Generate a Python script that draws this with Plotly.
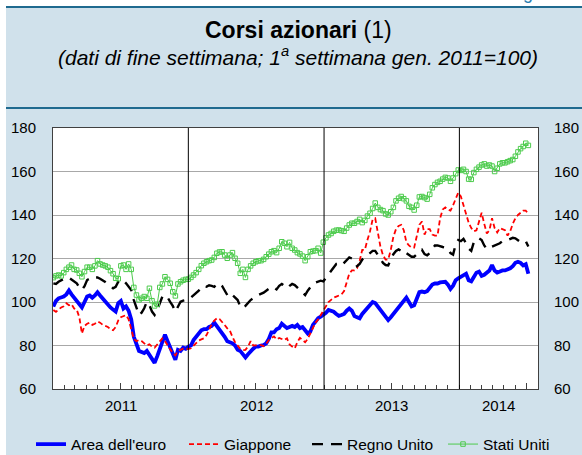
import pandas as pd
import plotly.graph_objects as go

# ---------------- data (weekly, end of week; 1st week Jan 2011 = 100) ----------------
years = [2011, 2012, 2013, 2014]
series_names = ["Area dell'euro", "Giappone", "Regno Unito", "Stati Uniti"]

euro_2011 = [97.9, 100.5, 101.7, 102, 102.5, 103.5, 105.3, 103.5, 102, 100,
             98.5, 97.5, 100, 102.5, 103, 102, 103, 104.5, 103, 101.5,
             100.5, 99, 97.5, 96.5, 95.6, 99.5, 100.5, 97, 98, 96,
             92, 84, 80.5, 77.5, 77, 76.5, 77.5, 75.5, 74, 72,
             75, 78, 81, 85, 82, 79, 76, 73.5, 78, 77.5,
             79, 78.5]
euro_2012 = [79.5, 80, 82.5, 84, 85.5, 87, 87.5, 87.5, 88.5, 89,
             90.5, 89, 87, 85.5, 84, 82, 81.5, 81, 80, 78,
             77.5, 76, 74.5, 76, 77.5, 78.5, 79.5, 79.5, 80, 80.2,
             81, 83, 86, 86, 87.5, 88, 90, 89, 88, 88.5,
             89, 88.5, 89.5, 88, 88.5, 87, 85.5, 86.4, 89.5, 91,
             92.6, 93.3]
euro_2013 = [94, 95, 96.3, 96, 95.5, 94.5, 93.6, 94, 94.5, 96,
             97, 96, 93.5, 93, 92.5, 94.5, 96, 97.5, 99, 100,
             99.5, 98, 96.5, 95, 93, 91.7, 93, 94.5, 96, 97.5,
             99, 100, 102, 100, 98, 98.5, 101.5, 104.5, 104.8, 104.5,
             105, 106.5, 108, 108.5, 108.5, 109, 109, 109.3, 108, 106,
             107.5, 110]
euro_2014 = [110.9, 111.5, 112.5, 113, 110, 109.5, 111.5, 113.5, 114, 112,
             112.5, 113.5, 114.5, 117, 114.5, 113.5, 114, 114.5, 114.5, 115,
             115.5, 116.5, 118, 118.5, 118, 116.8, 117.4, 113]

jap_2011 = [96.3, 95.5, 96.5, 97.5, 98, 99.4, 98.5, 99, 97, 96.5,
            93, 85.5, 89, 90, 90.5, 89.5, 90, 91, 90.5, 89.5,
            89, 88.5, 87.5, 87, 88.5, 91.5, 93, 93.5, 94, 92,
            88, 83, 82, 82.5, 82, 81, 80, 80.5, 79.5, 79,
            80.5, 82, 83.3, 82, 80, 78, 76.5, 75.5, 77.5, 78,
            78.5, 78.5]
jap_2012 = [78.3, 78.7, 79.8, 81.3, 82.3, 82.8, 83.3, 84.8, 87.5, 89.8,
            91.5, 92.5, 92.2, 91, 89.4, 87.9, 86.8, 84, 81.5, 80,
            78.5, 77.9, 78, 79.5, 82, 80, 80, 80.2, 80.2, 79.7,
            80.8, 82.5, 83.3, 84.2, 82.8, 83.5, 83, 82.5, 83.3, 80.5,
            79.5, 78.7, 81.5, 83.5, 82.5, 81.5, 83, 85.5, 88, 90.5,
            92, 94]
jap_2013 = [96, 98.5, 100, 101, 102, 102.5, 103, 103.5, 105, 108.6,
            113, 114.5, 114.5, 115.5, 119, 124, 124, 128.5, 132.5, 138,
            138.5, 132, 125.5, 121.5, 119.5, 119.5, 124, 130, 133.5, 135,
            135.5, 133, 127.5, 126, 125, 125, 130, 135.5, 137, 131,
            133.5, 133.5, 131, 130.5, 130.5, 138.5, 142.5, 143.5, 142.5, 142,
            144.5, 147]
jap_2014 = [150.3, 148.5, 144.5, 140, 136.5, 134, 132.5, 133, 137.5, 141,
            136, 131.5, 133, 138.5, 134, 132, 134, 133.5, 133, 130.5,
            132.5, 136, 138.5, 140, 140.8, 142, 142, 140.5]

uk_2011 = [108.6, 108.3, 109.3, 110.1, 110.9, 111.3, 111.2, 110.4, 109.7, 108.6,
           106.7, 105.5, 107.3, 110.1, 110.7, 110.4, 111.2, 111.3, 110.7, 110.1,
           109.2, 108.3, 107.3, 106.3, 107, 109.3, 110.4, 109.8, 108.6, 107.3,
           105.5, 100.9, 97.1, 94, 95.1, 97.1, 100.1, 98.6, 95.6, 94,
           96.3, 99.7, 102.5, 103.2, 102.1, 100.1, 98.2, 95.6, 97.9, 100.1,
           100.6, 100.9]
uk_2012 = [101.2, 102.1, 103.2, 104, 105.2, 107, 107.4, 107, 107.7, 107.4,
           107, 108.3, 108.6, 107.4, 105.5, 103.2, 104.3, 103.2, 102.1, 100.9,
           97.9, 97.1, 98.2, 99.7, 100.9, 101.7, 102.8, 103.2, 103.7, 104.3,
           105.2, 106.3, 107, 106.7, 105.8, 107.4, 108.3, 107.4, 106.3, 107.4,
           108.3, 107.8, 106.7, 105.5, 104.3, 103.2, 105.2, 107, 108.3, 108.9,
           109.3, 109.8]
uk_2013 = [109.5, 111, 113, 114.5, 116, 117.5, 117.5, 116.8, 118, 119.5,
           120.5, 120, 118.5, 116.5, 117.5, 119.5, 120.5, 121.5, 122.5, 123.5,
           123.5, 121.5, 120, 118, 117, 116.8, 119.5, 122, 123.5, 124.2,
           123.5, 124, 122.5, 121.5, 120.8, 120.8, 122, 123, 124, 122,
           121.5, 122.5, 124.5, 126, 126, 125.5, 125.3, 125, 124.7, 122.5,
           121.8, 126.5]
uk_2014 = [128.5, 128, 129, 127, 124.5, 123.5, 127.5, 129, 129.3, 128.5,
           126, 124.5, 124.5, 125.5, 126, 126.5, 127, 128, 128.5, 128.5,
           129, 129.5, 129.3, 128.5, 127.5, 128, 128, 125.5]

us_2011 = [111.2, 112, 112.4, 112, 113.5, 115, 116, 117, 115, 114.7,
           113.2, 111.6, 114, 116, 116, 115, 116.6, 119, 117.5, 117,
           116.6, 116, 114.4, 113, 110.9, 110.7, 116.6, 117, 115, 117.5,
           115, 106.7, 103.2, 101, 101.7, 102.5, 101.7, 106.3, 100.6, 98.2,
           99, 106.7, 108.3, 111.6, 110.4, 108.6, 104.7, 102.8, 108.3, 109.3,
           110, 110.4]
us_2012 = [110.5, 111.3, 112.4, 113.5, 115, 116.7, 117.8, 118.5, 119, 119.3,
           120.5, 122.4, 123, 123.1, 121.6, 120.1, 121.6, 122.7, 120.1, 117.8,
           113.2, 115, 111.3, 115, 116.6, 117.8, 118.5, 118.9, 119, 119.6,
           120.8, 122, 123.1, 123.6, 122.7, 124.7, 127.7, 127, 125.4, 127.4,
           124.7, 123.9, 122.7, 122.1, 121.1, 119, 120.8, 123.1, 123.4, 123.6,
           124.7, 122.5]
us_2013 = [127.5, 129.5, 130.8, 131.5, 132.5, 133, 133.1, 132.8, 132.5, 134,
           135.4, 136.2, 136.2, 137, 138, 136.5, 137.5, 139.5, 140.8, 143,
           145.5, 143.5, 142.5, 142, 140.5, 140, 141.5, 143.5, 146.5, 147.7,
           148.5, 147.5, 146.5, 144, 143.5, 142.3, 144.5, 148.3, 148.5, 148,
           147.3, 149.5, 152.5, 154, 155, 155.5, 156.5, 157.3, 157, 155.5,
           157, 159]
us_2014 = [160.7, 160.5, 161, 160, 156.5, 156.4, 159.5, 161, 162, 163,
           163.5, 162.5, 163, 162.5, 160, 161.5, 163.5, 164, 164, 164.5,
           165, 165.5, 167, 169, 170.5, 171.5, 173, 172]

y_ticks = [60, 80, 100, 120, 140, 160, 180]

euro = euro_2011 + euro_2012 + euro_2013 + euro_2014
japan = jap_2011 + jap_2012 + jap_2013 + jap_2014
uk = uk_2011 + uk_2012 + uk_2013 + uk_2014
us = us_2011 + us_2012 + us_2013 + us_2014

dates = pd.date_range("2011-01-02", periods=len(euro), freq="W-SUN")
x_start, x_end = "2011-01-01", "2014-08-01"

# ---------------- figure ----------------
FONT = "Liberation Sans, Arial, Helvetica, sans-serif"
BG = "#d0e1eb"
TEAL = "#1f6a8f"
GREEN = "#4ccb4c"
W, H = 582, 455
L, T, PW, PH = 53, 128, 485, 261


def px(p):   # pixel x -> paper x
    return (p - L) / PW


def py(p):   # pixel y -> paper y
    return 1 + (T - p) / PH


fig = go.Figure()
fig.add_trace(go.Scatter(x=dates, y=euro, name=series_names[0], mode="lines",
                         line=dict(color="#0000ff", width=3.8), legendwidth=108))
fig.add_trace(go.Scatter(x=dates, y=japan, name=series_names[1], mode="lines",
                         line=dict(color="#ff0000", width=1.8, dash="5px,3px"), legendwidth=78))
fig.add_trace(go.Scatter(x=dates, y=uk, name=series_names[2], mode="lines",
                         line=dict(color="#000000", width=2.4, dash="11px,8px"), legendwidth=91))
fig.add_trace(go.Scatter(x=dates, y=us, name=series_names[3], mode="lines+markers",
                         line=dict(color=GREEN, width=1), legendwidth=76,
                         marker=dict(symbol="square-open", size=4.5,
                                     color=GREEN, line=dict(width=1, color=GREEN))))
# carrier for the right-hand axis labels
fig.add_trace(go.Scatter(x=dates, y=us, yaxis="y2", mode="lines", opacity=0,
                         line=dict(width=0), showlegend=False, hoverinfo="skip"))

shapes = []
# year boundary lines
for yr in years[1:]:
    shapes.append(dict(type="line", xref="x", yref="paper",
                       x0=f"{yr}-01-01", x1=f"{yr}-01-01", y0=0, y1=1,
                       line=dict(color="black", width=1), layer="above"))
# white strips at the top and on the left edge
shapes.append(dict(type="rect", xref="paper", yref="paper", x0=px(-10), x1=px(600),
                   y0=py(6), y1=py(-10), fillcolor="white", line=dict(width=0), layer="above"))
shapes.append(dict(type="rect", xref="paper", yref="paper", x0=px(-10), x1=px(6),
                   y0=py(470), y1=py(6), fillcolor="white", line=dict(width=0), layer="above"))
# header rules
for yy in (7, 108):
    shapes.append(dict(type="line", xref="paper", yref="paper",
                       x0=px(6), x1=px(590), y0=py(yy), y1=py(yy),
                       line=dict(color=TEAL, width=2), layer="above"))

annotations = []
# year labels (centred in the visible part of each year)
for yr in years:
    a = pd.Timestamp(f"{yr}-01-01")
    b = min(pd.Timestamp(f"{yr+1}-01-01"), pd.Timestamp(x_end))
    mid = a + (b - a) / 2
    annotations.append(dict(x=mid, y=py(405.5), xref="x", yref="paper", text=str(yr),
                            showarrow=False, font=dict(size=15, color="black", family=FONT),
                            xanchor="center", yanchor="middle"))
# title and subtitle
annotations.append(dict(x=px(298), y=py(30), xref="paper", yref="paper",
                        text="<b>Corsi azionari</b> (1)",
                        showarrow=False, font=dict(size=23, color="black", family=FONT),
                        xanchor="center", yanchor="middle"))
annotations.append(dict(x=px(298), y=py(56), xref="paper", yref="paper",
                        text="<i>(dati di fine settimana; 1<sup>a</sup> settimana gen. 2011=100)</i>",
                        showarrow=False, font=dict(size=21, color="black", family=FONT),
                        xanchor="center", yanchor="middle"))
# clipped figure label at the very top
annotations.append(dict(x=px(562), y=py(5), xref="paper", yref="paper", text="Figura",
                        showarrow=False, font=dict(size=18, color="#2a7db0", family=FONT),
                        xanchor="right", yanchor="bottom"))

fig.update_layout(
    width=W, height=H,
    margin=dict(l=L, r=W - L - PW, t=T, b=H - T - PH, autoexpand=False),
    paper_bgcolor=BG, plot_bgcolor="white",
    font=dict(family=FONT, size=15, color="black"),
    showlegend=True,
    legend=dict(orientation="h", xref="paper", x=px(31), xanchor="left",
                yref="paper", y=py(444.5), yanchor="middle",
                bgcolor="rgba(0,0,0,0)", borderwidth=0,
                font=dict(size=15.5, family=FONT, color="black"), itemwidth=30),
    xaxis=dict(type="date", range=[x_start, x_end], showgrid=False, zeroline=False,
               showline=True, mirror=True, linecolor="#404040", linewidth=1,
               tickvals=[f"{yr}-07-01" for yr in years], showticklabels=False,
               ticks="inside", ticklen=6, tickcolor="#404040",
               minor=dict(dtick="M1", tick0="2011-01-01", ticks="inside", ticklen=4,
                          tickcolor="#404040", showgrid=False)),
    yaxis=dict(range=[60, 180], tickvals=y_ticks, showgrid=True, gridcolor="#a8a8a8",
               gridwidth=1, zeroline=False, showline=True, mirror=True,
               linecolor="#404040", linewidth=1, ticks="", ticklabelstandoff=13,
               tickfont=dict(size=15)),
    yaxis2=dict(range=[60, 180], tickvals=y_ticks, overlaying="y", side="right",
                showgrid=False, zeroline=False, showline=False, ticks="",
                ticklabelstandoff=15, tickfont=dict(size=15)),
    shapes=shapes,
    annotations=annotations,
)

fig.write_html("out.html", config={"displayModeBar": False},
               post_script="document.body.style.margin='0';")
